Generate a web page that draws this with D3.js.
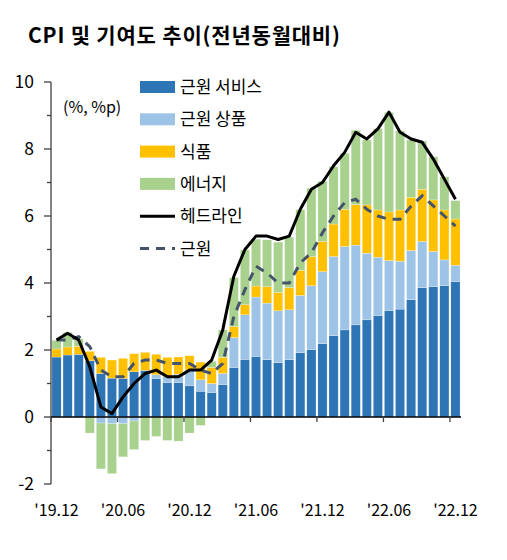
<!DOCTYPE html>
<html>
<head>
<meta charset="utf-8">
<script src="https://cdn.jsdelivr.net/npm/d3@7"></script>
<style>
  body { margin: 0; background: #fff; }
  svg text { font-family: "Noto Sans CJK KR", "Noto Sans", sans-serif; fill: #000; }
</style>
</head>
<body>
<div id="chart"></div>
<script>
// CPI contribution chart - stacked bars by component plus headline/core lines

const months = [
  "19.12", "20.01", "20.02", "20.03", "20.04", "20.05", "20.06", "20.07", "20.08", "20.09", "20.10", "20.11",
  "20.12", "21.01", "21.02", "21.03", "21.04", "21.05", "21.06", "21.07", "21.08", "21.09", "21.10", "21.11",
  "21.12", "22.01", "22.02", "22.03", "22.04", "22.05", "22.06", "22.07", "22.08", "22.09", "22.10", "22.11",
  "22.12"
];
const tickLabels = ["'19.12", "'20.06", "'20.12", "'21.06", "'21.12", "'22.06", "'22.12"];

// contributions (%p)
const coreServices = [1.79, 1.85, 1.87, 1.68, 1.30, 1.16, 1.15, 1.35, 1.39, 1.15, 1.03, 1.03,
  0.93, 0.77, 0.73, 0.97, 1.48, 1.72, 1.81, 1.71, 1.62, 1.71, 1.92, 2.01,
  2.19, 2.43, 2.60, 2.75, 2.90, 3.03, 3.18, 3.22, 3.50, 3.86, 3.89, 3.92, 4.04];
const coreGoods = [0.00, -0.02, 0.00, 0.00, -0.18, -0.20, -0.20, -0.12, 0.00, 0.11, 0.18, 0.25,
  0.48, 0.34, 0.27, 0.33, 0.89, 1.33, 1.77, 1.69, 1.55, 1.49, 1.71, 1.91,
  2.15, 2.36, 2.49, 2.38, 1.99, 1.74, 1.49, 1.43, 1.47, 1.38, 1.05, 0.77, 0.49];
const food = [0.24, 0.24, 0.24, 0.28, 0.48, 0.54, 0.60, 0.54, 0.54, 0.61, 0.57, 0.51,
  0.42, 0.53, 0.48, 0.48, 0.33, 0.30, 0.33, 0.49, 0.55, 0.66, 0.75, 0.87,
  0.90, 0.97, 1.11, 1.21, 1.44, 1.41, 1.45, 1.53, 1.59, 1.56, 1.54, 1.49, 1.38];
const energy = [0.26, 0.44, 0.22, -0.48, -1.37, -1.49, -0.99, -0.85, -0.70, -0.58, -0.70, -0.72,
  -0.48, -0.25, 0.18, 0.82, 1.46, 1.64, 1.40, 1.40, 1.50, 1.51, 1.81, 2.04,
  1.80, 1.71, 1.67, 2.22, 1.94, 2.43, 2.97, 2.36, 1.71, 1.44, 1.29, 0.99, 0.55];

// yoy (%)
const headline = [2.3, 2.5, 2.3, 1.5, 0.3, 0.1, 0.6, 1.0, 1.3, 1.4, 1.2, 1.2,
  1.4, 1.4, 1.7, 2.6, 4.2, 5.0, 5.4, 5.4, 5.3, 5.4, 6.2, 6.8,
  7.0, 7.5, 7.9, 8.5, 8.3, 8.6, 9.1, 8.5, 8.3, 8.2, 7.7, 7.1, 6.5];
const core = [2.3, 2.3, 2.4, 2.1, 1.4, 1.2, 1.2, 1.6, 1.7, 1.7, 1.6, 1.6,
  1.6, 1.4, 1.3, 1.6, 3.0, 3.8, 4.5, 4.3, 4.0, 4.0, 4.6, 4.9,
  5.5, 6.0, 6.4, 6.5, 6.2, 6.0, 5.9, 5.9, 6.3, 6.6, 6.3, 6.0, 5.7];

const seriesNames = ["근원 서비스", "근원 상품", "식품", "에너지"];
const seriesColors = ["#2E75B6", "#9DC3E6", "#FFC000", "#A9D18E"];

const W = 507, H = 560;
const plotLeft = 51, plotRight = 461, plotTop = 82, plotBottom = 484;

const svg = d3.select("#chart").append("svg")
  .attr("width", W)
  .attr("height", H);

// title
svg.append("text")
  .attr("x", 28)
  .attr("y", 43)
  .attr("font-size", "21px")
  .attr("font-weight", "bold")
  .attr("letter-spacing", "0.8px")
  .text("CPI 및 기여도 추이(전년동월대비)");

const x = d3.scaleBand()
  .domain(months)
  .range([plotLeft, plotRight])
  .paddingInner(0.17)
  .paddingOuter(0.085);

const y = d3.scaleLinear()
  .domain([-2, 10])
  .range([plotBottom, plotTop]);

const table = months.map((m, i) => ({
  month: m,
  "근원 서비스": coreServices[i],
  "근원 상품": coreGoods[i],
  "식품": food[i],
  "에너지": energy[i]
}));

const stacked = d3.stack()
  .keys(seriesNames)
  .offset(d3.stackOffsetDiverging)(table);

// bars
svg.append("g")
  .selectAll("g")
  .data(stacked)
  .enter().append("g")
  .attr("fill", (d, i) => seriesColors[i])
  .selectAll("rect")
  .data(d => d)
  .enter().append("rect")
  .attr("x", d => x(d.data.month))
  .attr("width", x.bandwidth())
  .attr("y", d => y(Math.max(d[0], d[1])))
  .attr("height", d => Math.abs(y(d[0]) - y(d[1])))
  .attr("stroke", "#fff")
  .attr("stroke-width", 0.4)
  .attr("stroke-opacity", 0.6);

// y axis
const yAxis = svg.append("g").attr("stroke", "#404040");
yAxis.append("line")
  .attr("x1", plotLeft).attr("x2", plotLeft)
  .attr("y1", y(10)).attr("y2", y(-2))
  .attr("stroke-width", 1.3);
const yMajor = [-2, 0, 2, 4, 6, 8, 10];
const yMinor = [-1, 1, 3, 5, 7, 9];
yAxis.selectAll(".major")
  .data(yMajor)
  .enter().append("line")
  .attr("x1", plotLeft - 7).attr("x2", plotLeft)
  .attr("y1", d => y(d)).attr("y2", d => y(d))
  .attr("stroke-width", 1.3);
yAxis.selectAll(".minor")
  .data(yMinor)
  .enter().append("line")
  .attr("x1", plotLeft - 4).attr("x2", plotLeft)
  .attr("y1", d => y(d)).attr("y2", d => y(d))
  .attr("stroke-width", 1.3);

svg.append("g")
  .selectAll("text")
  .data(yMajor)
  .enter().append("text")
  .attr("x", 34)
  .attr("y", d => y(d) + 6)
  .attr("text-anchor", "end")
  .attr("font-size", "17.5px")
  .text(d => d);

// x axis at zero
const step = x.step();
const tickIdx = [0, 6, 12, 18, 24, 30, 36];
svg.append("line")
  .attr("x1", plotLeft).attr("x2", plotRight)
  .attr("y1", y(0)).attr("y2", y(0))
  .attr("stroke", "#000")
  .attr("stroke-width", 1.5);
svg.append("g")
  .selectAll("line")
  .data(tickIdx)
  .enter().append("line")
  .attr("x1", i => x(months[i]) + x.bandwidth() / 2 - step / 2)
  .attr("x2", i => x(months[i]) + x.bandwidth() / 2 - step / 2)
  .attr("y1", y(0))
  .attr("y2", y(0) + 5)
  .attr("stroke", "#404040")
  .attr("stroke-width", 1.3);

svg.append("g")
  .selectAll("text")
  .data(tickIdx)
  .enter().append("text")
  .attr("x", i => x(months[i]) + x.bandwidth() / 2)
  .attr("y", 516)
  .attr("text-anchor", "middle")
  .attr("font-size", "16px")
  .text((i, k) => tickLabels[k]);

// lines
const cx = (d, i) => x(months[i]) + x.bandwidth() / 2;
const line = d3.line().x(cx).y(d => y(d));

svg.append("path")
  .datum(core)
  .attr("fill", "none")
  .attr("stroke", "#44546A")
  .attr("stroke-width", 3)
  .attr("stroke-dasharray", "9,7")
  .attr("d", line);

svg.append("path")
  .datum(headline)
  .attr("fill", "none")
  .attr("stroke", "#000")
  .attr("stroke-width", 3)
  .attr("stroke-linejoin", "round")
  .attr("d", line);

// unit
svg.append("text")
  .attr("x", 63)
  .attr("y", 113)
  .attr("font-size", "16px")
  .text("(%, %p)");

// legend
const legend = svg.append("g");
const rowY = d3.range(6).map(k => 87 + k * 32.3);
seriesNames.forEach((name, k) => {
  legend.append("rect")
    .attr("x", 140).attr("y", rowY[k] - 6)
    .attr("width", 35).attr("height", 12)
    .attr("fill", seriesColors[k]);
  legend.append("text")
    .attr("x", 180).attr("y", rowY[k] + 6)
    .attr("font-size", "17px")
    .text(name);
});
legend.append("line")
  .attr("x1", 140).attr("x2", 175)
  .attr("y1", rowY[4]).attr("y2", rowY[4])
  .attr("stroke", "#000").attr("stroke-width", 3);
legend.append("text")
  .attr("x", 180).attr("y", rowY[4] + 6)
  .attr("font-size", "17px")
  .text("헤드라인");
legend.append("line")
  .attr("x1", 140).attr("x2", 175)
  .attr("y1", rowY[5]).attr("y2", rowY[5])
  .attr("stroke", "#44546A").attr("stroke-width", 3)
  .attr("stroke-dasharray", "9,7");
legend.append("text")
  .attr("x", 180).attr("y", rowY[5] + 6)
  .attr("font-size", "17px")
  .text("근원");
</script>
</body>
</html>
